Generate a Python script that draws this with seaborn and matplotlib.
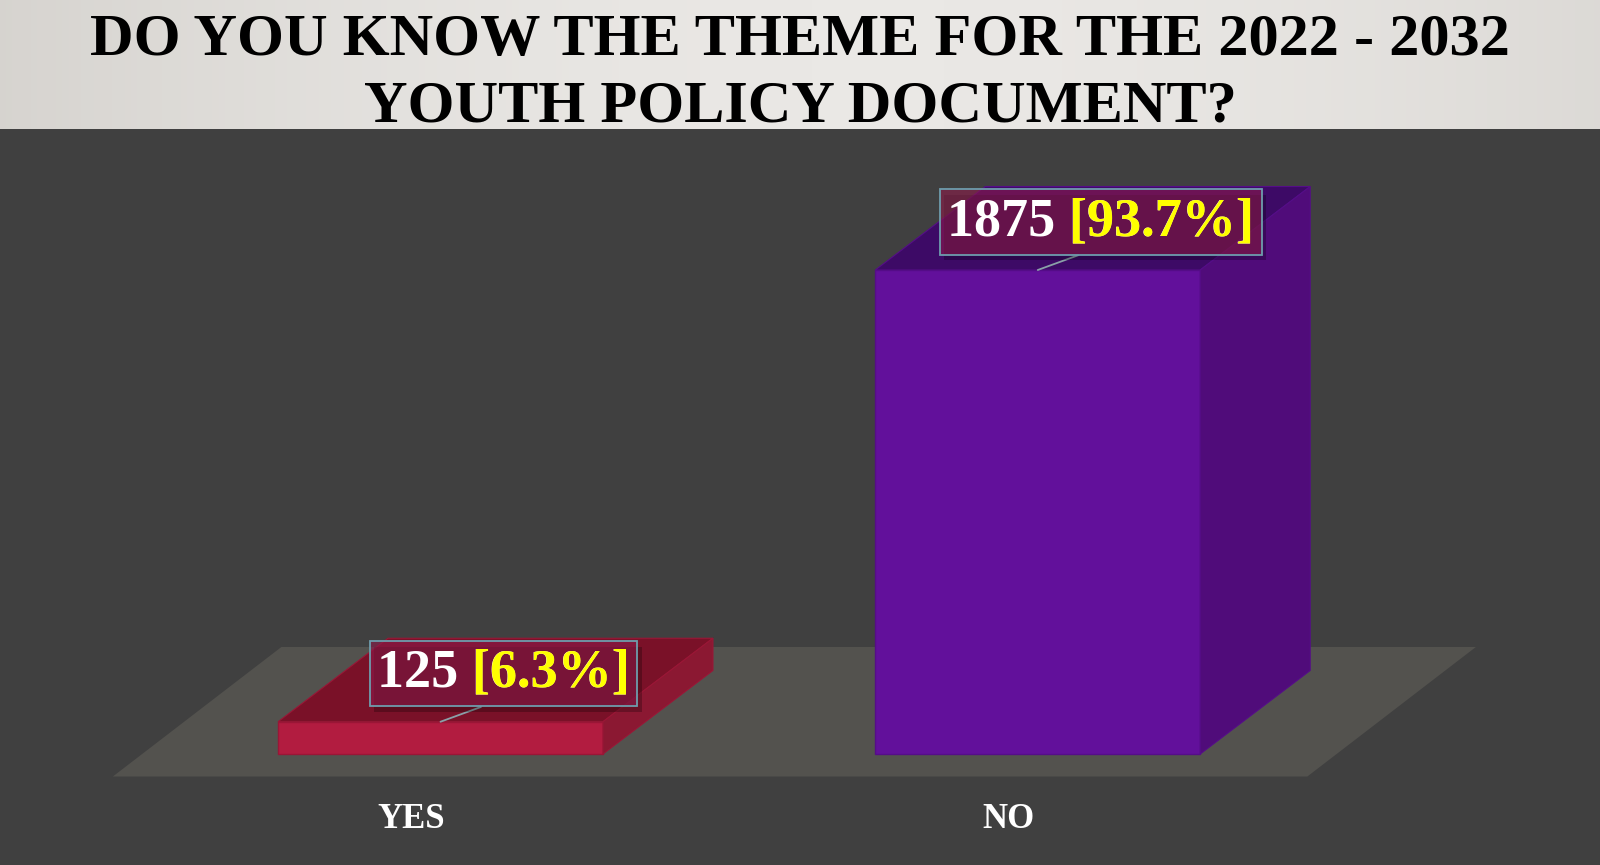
import numpy as np
import pandas as pd
import matplotlib.pyplot as plt
import seaborn as sns
from matplotlib.patches import Polygon
from matplotlib.transforms import ScaledTranslation
from matplotlib import patheffects

# chart data
answers = ['YES', 'NO']
counts = [125, 1875]
percents = [6.3, 93.7]
title_lines = ['DO YOU KNOW THE THEME FOR THE 2022 - 2032', 'YOUTH POLICY DOCUMENT?']

# colours
front_colors = ['#B21C40', '#62109B']
top_colors = ['#7A1128', '#3D0A66']
side_colors = ['#8B1832', '#500C7A']
edge_colors = ['#9A1636', '#550D88']
bg_color = '#404040'
floor_color = '#53524E'

sns.set_theme(style='white')
plt.rcParams['font.family'] = ['Liberation Serif', 'DejaVu Serif']

fig = plt.figure(figsize=(16, 8.65), dpi=100, facecolor=bg_color)

# title band with soft gradient
tax = fig.add_axes([0, 1 - 129 / 865, 1, 129 / 865])
grad = np.linspace(0, 1, 256)
grad = 0.5 + 0.5 * np.cos((grad - 0.55) * 2.4)
tax.imshow(grad[np.newaxis, :], aspect='auto', cmap=sns.blend_palette(['#CBC8C3', '#EAE8E5'], as_cmap=True),
           extent=[0, 1, 0, 1], vmin=0.4, vmax=1)
tax.set_axis_off()
fig.text(0.5, 1 - 55 / 865, title_lines[0], ha='center', va='baseline',
         fontsize=43.5, fontweight='bold', color='black')
fig.text(0.5, 1 - 121 / 865, title_lines[1], ha='center', va='baseline',
         fontsize=43.5, fontweight='bold', color='black')

# main axes covers the whole figure below the title
ax = fig.add_axes([0, 0, 1, 1 - 129 / 865], zorder=-1)
ax.set_facecolor(bg_color)

df = pd.DataFrame({'answer': answers, 'count': counts})
sns.barplot(data=df, x='answer', y='count', hue='answer', palette=front_colors,
            saturation=1, width=0.544, legend=False, ax=ax, zorder=3)

px_x = 597.25      # pixels per category step
px_y = 0.25813     # pixels per count
ax.set_xlim(-440.5 / px_x, (1600 - 440.5) / px_x)
ax.set_ylim(-111 / px_y, (736 - 111) / px_y)

# 3d depth of bars and floor
dx, dy = 110 / px_x, 83.5 / px_y
floor_y = -22.5 / px_y
floor_shift = 29 / px_x
floor_dx, floor_dy = 168.5 / px_x, 129.5 / px_y

fx0, fx1 = -0.5 - floor_shift, 1.5 - floor_shift
ax.add_patch(Polygon([(fx0, floor_y), (fx1, floor_y), (fx1 + floor_dx, floor_y + floor_dy),
                      (fx0 + floor_dx, floor_y + floor_dy)], closed=True,
                     facecolor=floor_color, edgecolor='none', zorder=1))

bars = list(ax.patches)[:len(counts)]
for i, p in enumerate(bars):
    x, w, h = p.get_x(), p.get_width(), p.get_height()
    p.set_edgecolor(edge_colors[i])
    p.set_linewidth(1)
    ax.add_patch(Polygon([(x, h), (x + w, h), (x + w + dx, h + dy), (x + dx, h + dy)], closed=True,
                         facecolor=top_colors[i], edgecolor=edge_colors[i], lw=0.8, zorder=3))
    ax.add_patch(Polygon([(x + w, 0), (x + w + dx, dy), (x + w + dx, h + dy), (x + w, h)], closed=True,
                         facecolor=side_colors[i], edgecolor=edge_colors[i], lw=0.8, zorder=3))

    main = ax.annotate(f'{counts[i]} [{percents[i]}%]', xy=(x + w / 2, h), xytext=(63, 48),
                       textcoords='offset pixels', ha='center', va='center',
                       fontsize=39, fontweight='bold', color='white', zorder=6,
                       bbox=dict(boxstyle='square,pad=0.14', fc=(0.55, 0.1, 0.29, 0.6),
                                 ec='#6E9DAD', lw=1.3),
                       arrowprops=dict(arrowstyle='-', color='#8AA0A8', lw=1.3,
                                       shrinkA=0, shrinkB=0, relpos=(0.5, 0)))
    main.get_bbox_patch().set_path_effects([
        patheffects.SimplePatchShadow(offset=(3, -4), shadow_rgbFace='black', alpha=0.25),
        patheffects.Normal()])
    ax.annotate(f'[{percents[i]}%]', xy=(1, 1), xycoords=main, ha='right', va='top',
                fontsize=39, fontweight='bold', color='#FFFF00', zorder=7)

# category labels along the front edge of the floor
ax.spines['bottom'].set_position(('data', floor_y))
for s in ax.spines.values():
    s.set_visible(False)
ax.set_xlabel('')
ax.set_ylabel('')
ax.set_yticks([])
ax.set_xticks(range(len(answers)))
ax.set_xticklabels(answers)
ax.tick_params(axis='x', length=0, pad=19, labelsize=25, labelcolor='white')
shift = ScaledTranslation(-29 / 100, 0, fig.dpi_scale_trans)
for lbl in ax.get_xticklabels():
    lbl.set_fontweight('bold')
    lbl.set_transform(lbl.get_transform() + shift)

fig.savefig('out.png', dpi=100, facecolor=bg_color)
